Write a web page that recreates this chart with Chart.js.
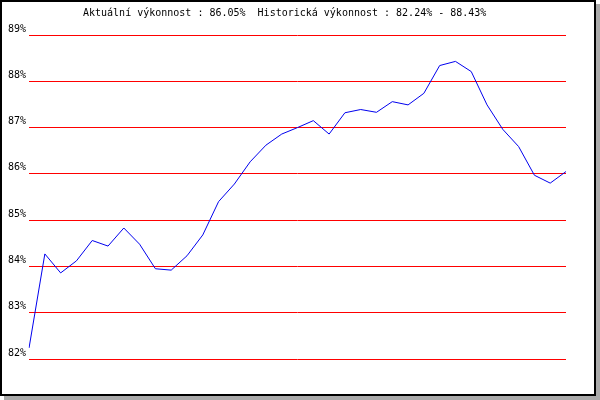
<!DOCTYPE html>
<html>
<head>
<meta charset="utf-8">
<script src="https://cdn.jsdelivr.net/npm/chart.js@4"></script>
<style>
  body { margin: 0; background: #fff; }
</style>
</head>
<body>
<canvas id="graf" width="600" height="400"></canvas>
<script>
const obdobi = ['1','2','3','4','5','6','7','8','9','10','11','12','13','14','15','16','17','18',
    '19','20','21','22','23','24','25','26','27','28','29','30','31','32','33','34','35'];

const vykonnost = [82.24, 84.27, 83.86, 84.12, 84.56, 84.44, 84.83, 84.48, 83.95, 83.92,
    84.23, 84.68, 85.40, 85.78, 86.26, 86.62, 86.86, 87.00, 87.15, 86.86,
    87.32, 87.39, 87.33, 87.56, 87.49, 87.74, 88.34, 88.43, 88.21, 87.49,
    86.96, 86.59, 85.97, 85.80, 86.05];

const osaY = [82, 83, 84, 85, 86, 87, 88, 89];

const aktualni = '86.05';
const historicka = ['82.24', '88.43'];

const pismo = '"DejaVu Sans Mono", monospace';

// ramecek se stinem + nadpis nahore
const ramecek = {
    id: 'ramecek',
    beforeDraw(chart) {
        const c = chart.ctx;
        c.save();
        c.fillStyle = '#aaaaaa';
        c.fillRect(4, 4, 596, 396);
        c.fillStyle = '#000';
        c.fillRect(0, 0, 596, 396);
        c.fillStyle = '#fff';
        c.fillRect(2, 2, 592, 392);
        c.restore();
    },
    afterDraw(chart) {
        const c = chart.ctx;
        c.save();
        c.font = '10px ' + pismo;
        c.fillStyle = '#000';
        c.textAlign = 'left';
        c.textBaseline = 'middle';
        c.fillText('Aktuální výkonnost : ' + aktualni + '%  Historická výkonnost : ' +
            historicka[0] + '% - ' + historicka[1] + '%', 83, 13);
        c.restore();
    }
};

const ctx = document.getElementById('graf').getContext('2d');
const graf = new Chart(ctx, {
    type: 'line',
    data: {
        labels: obdobi,
        datasets: [{
            data: vykonnost,
            borderColor: '#0000ee',
            borderWidth: 1,
            pointRadius: 0,
            tension: 0,
            fill: false
        }]
    },
    options: {
        responsive: false,
        animation: false,
        layout: {
            padding: { left: 5, right: 34, top: 35, bottom: 41 }
        },
        plugins: {
            legend: { display: false },
            tooltip: { enabled: false },
            title: { display: false }
        },
        scales: {
            x: { display: false },
            y: {
                min: osaY[0],
                max: osaY[osaY.length - 1],
                border: { display: false },
                grid: { color: '#ff0000', lineWidth: 1, drawTicks: false },
                ticks: {
                    stepSize: 1,
                    padding: 3,
                    labelOffset: -6,
                    color: '#000',
                    font: { family: pismo, size: 10 },
                    callback: v => v + '%'
                }
            }
        }
    },
    plugins: [ramecek]
});
</script>
</body>
</html>
